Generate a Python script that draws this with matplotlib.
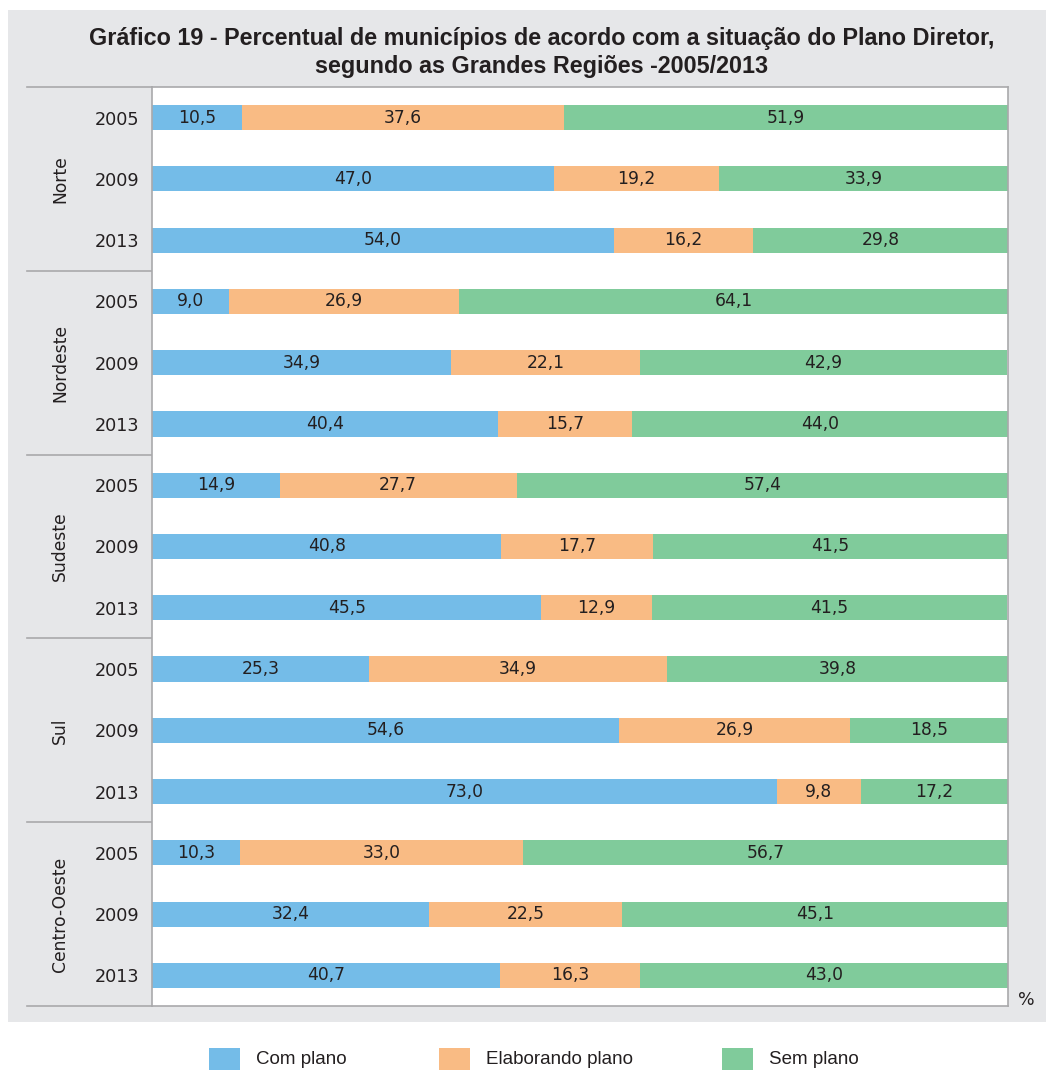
import numpy as np
import matplotlib.pyplot as plt
from matplotlib.patches import Rectangle
from matplotlib.lines import Line2D

plt.rcParams['font.family'] = ['DejaVu Sans']

# Data
regions = ['Norte', 'Nordeste', 'Sudeste', 'Sul', 'Centro-Oeste']
years = ['2005', '2009', '2013']
series = ['Com plano', 'Elaborando plano', 'Sem plano']

com_plano = [10.5, 47.0, 54.0,
             9.0, 34.9, 40.4,
             14.9, 40.8, 45.5,
             25.3, 54.6, 73.0,
             10.3, 32.4, 40.7]
elaborando = [37.6, 19.2, 16.2,
              26.9, 22.1, 15.7,
              27.7, 17.7, 12.9,
              34.9, 26.9, 9.8,
              33.0, 22.5, 16.3]
sem_plano = [51.9, 33.9, 29.8,
             64.1, 42.9, 44.0,
             57.4, 41.5, 41.5,
             39.8, 18.5, 17.2,
             56.7, 45.1, 43.0]

colors = ['#74bce8', '#f9bb84', '#80cb9b']
txt = '#231f20'
gridc = '#a9a9ab'
narrow = ['Liberation Sans', 'DejaVu Sans']

W, H = 1054, 1070
fig = plt.figure(figsize=(W / 100, H / 100), dpi=100)

def fx(x):
    return x / W

def fy(y):
    return 1 - y / H

# gray panel behind everything
panel = Rectangle((fx(8), fy(1022)), fx(1038), (1022 - 10) / H,
                  transform=fig.transFigure, facecolor='#e6e7e9',
                  edgecolor='none', zorder=-10)
fig.add_artist(panel)

ax = fig.add_axes([fx(152), fy(1006), fx(1008 - 152), (1006 - 87) / H])
ax.set_zorder(5)
ax.set_facecolor('white')

n = len(com_plano)
ypos = np.arange(n)
left = np.zeros(n)
for vals, c in zip([com_plano, elaborando, sem_plano], colors):
    vals = np.array(vals)
    ax.barh(ypos, vals, left=left, height=0.41, color=c, edgecolor='none')
    for y, l, v in zip(ypos, left, vals):
        ax.text(l + v / 2, y, f'{v:.1f}'.replace('.', ','), ha='center', va='center',
                fontsize=12.3, color=txt)
    left += vals

ax.set_xlim(0, 100)
ax.set_ylim(n - 0.5, -0.5)
ax.set_xticks([])
ax.set_yticks(ypos)
ax.set_yticklabels(years * len(regions), fontsize=12.7, color=txt)
ax.tick_params(axis='y', length=0, pad=9)
for s in ax.spines.values():
    s.set_color(gridc)
    s.set_linewidth(1.2)

# region separators and labels
group_px = (1006 - 87) / len(regions)
for g in range(len(regions) + 1):
    yb = 87 + g * group_px
    fig.add_artist(Line2D([fx(27), fx(152)], [fy(yb), fy(yb)], color=gridc, lw=1.2))
for g, r in enumerate(regions):
    yc = 87 + (g + 0.5) * group_px
    fig.text(fx(60), fy(yc), r, rotation=90, ha='center', va='center',
             fontsize=12.3, color=txt)

fig.text(fx(542), fy(38), 'Gráfico 19 - Percentual de municípios de acordo com a situação do Plano Diretor,',
         ha='center', va='center', fontsize=16.8, fontweight='bold', color=txt, family=narrow)
fig.text(fx(542), fy(66), 'segundo as Grandes Regiões -2005/2013',
         ha='center', va='center', fontsize=16.8, fontweight='bold', color=txt, family=narrow)

fig.text(fx(1026), fy(1000), '%', ha='center', va='center', fontsize=12.5, color=txt)

# legend
leg_x = [209, 439, 722]
for x0, lab, c in zip(leg_x, series, colors):
    fig.add_artist(Rectangle((fx(x0), fy(1070)), fx(31), 22 / H,
                             transform=fig.transFigure, facecolor=c, edgecolor='none'))
    fig.text(fx(x0 + 47), fy(1059), lab, ha='left', va='center', fontsize=13.5,
             color=txt, family=narrow)

fig.savefig('out.png', dpi=100)
